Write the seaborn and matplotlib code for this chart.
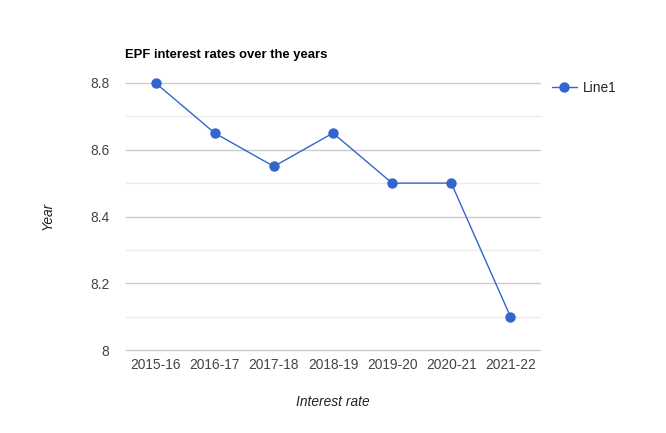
import matplotlib
matplotlib.use("Agg")
import matplotlib.pyplot as plt
import seaborn as sns
import pandas as pd
from matplotlib.lines import Line2D

years = ["2015-16", "2016-17", "2017-18", "2018-19", "2019-20", "2020-21", "2021-22"]
rates = [8.8, 8.65, 8.55, 8.65, 8.5, 8.5, 8.1]
y_ticks = [8.0, 8.2, 8.4, 8.6, 8.8]
y_tick_labels = ["8", "8.2", "8.4", "8.6", "8.8"]
minor_ticks = [8.1, 8.3, 8.5, 8.7]

sns.set_theme(style="white")
plt.rcParams["font.family"] = ["Liberation Sans", "DejaVu Sans"]

df = pd.DataFrame({"year": years, "rate": rates})

fig = plt.figure(figsize=(6.66, 4.33), dpi=100)
ax = fig.add_axes([126/666, 1-350/433, 414/666, 267/433])

color = "#3366cc"
sns.lineplot(data=df, x="year", y="rate", ax=ax, color=color, linewidth=1,
             marker="o", markersize=7.5, markeredgewidth=0, sort=False, zorder=3,
             clip_on=False)

ax.set_xlim(-0.5, len(years) - 0.5)
ax.set_ylim(8.0, 8.8)
ax.set_yticks(y_ticks)
ax.set_yticklabels(y_tick_labels)
for v in y_ticks:
    ax.axhline(v, color="#cccccc", linewidth=1, zorder=1, clip_on=False)
for v in minor_ticks:
    ax.axhline(v, color="#ebebeb", linewidth=1, zorder=1, clip_on=False)

for s in ax.spines.values():
    s.set_visible(False)
ax.tick_params(axis="both", length=0, labelsize=9.9, colors="#444444")
ax.tick_params(axis="y", pad=12)
ax.tick_params(axis="x", pad=6)
ax.set_xlabel("")
ax.set_ylabel("")

fig.text(125/666, 1-55/433, "EPF interest rates over the years", fontsize=9.4,
         fontweight="bold", color="#000000", ha="left", va="center")
fig.text(48/666, 1-216/433, "Year", fontsize=9.9, style="italic", color="#222222",
         rotation=90, ha="center", va="center")
fig.text(333/666, 1-402/433, "Interest rate", fontsize=9.9, style="italic", color="#222222",
         ha="center", va="center")

handle = Line2D([0], [0], color=color, linewidth=1, marker="o", markersize=7.5,
                markeredgewidth=0)
leg = fig.legend([handle], ["Line1"], loc="center left",
                 bbox_to_anchor=(552/666, 1-88/433), frameon=False,
                 fontsize=9.9, handlelength=1.8, handletextpad=0.45,
                 borderaxespad=0, borderpad=0)
for t in leg.get_texts():
    t.set_color("#222222")

fig.savefig("out.png", dpi=100)
